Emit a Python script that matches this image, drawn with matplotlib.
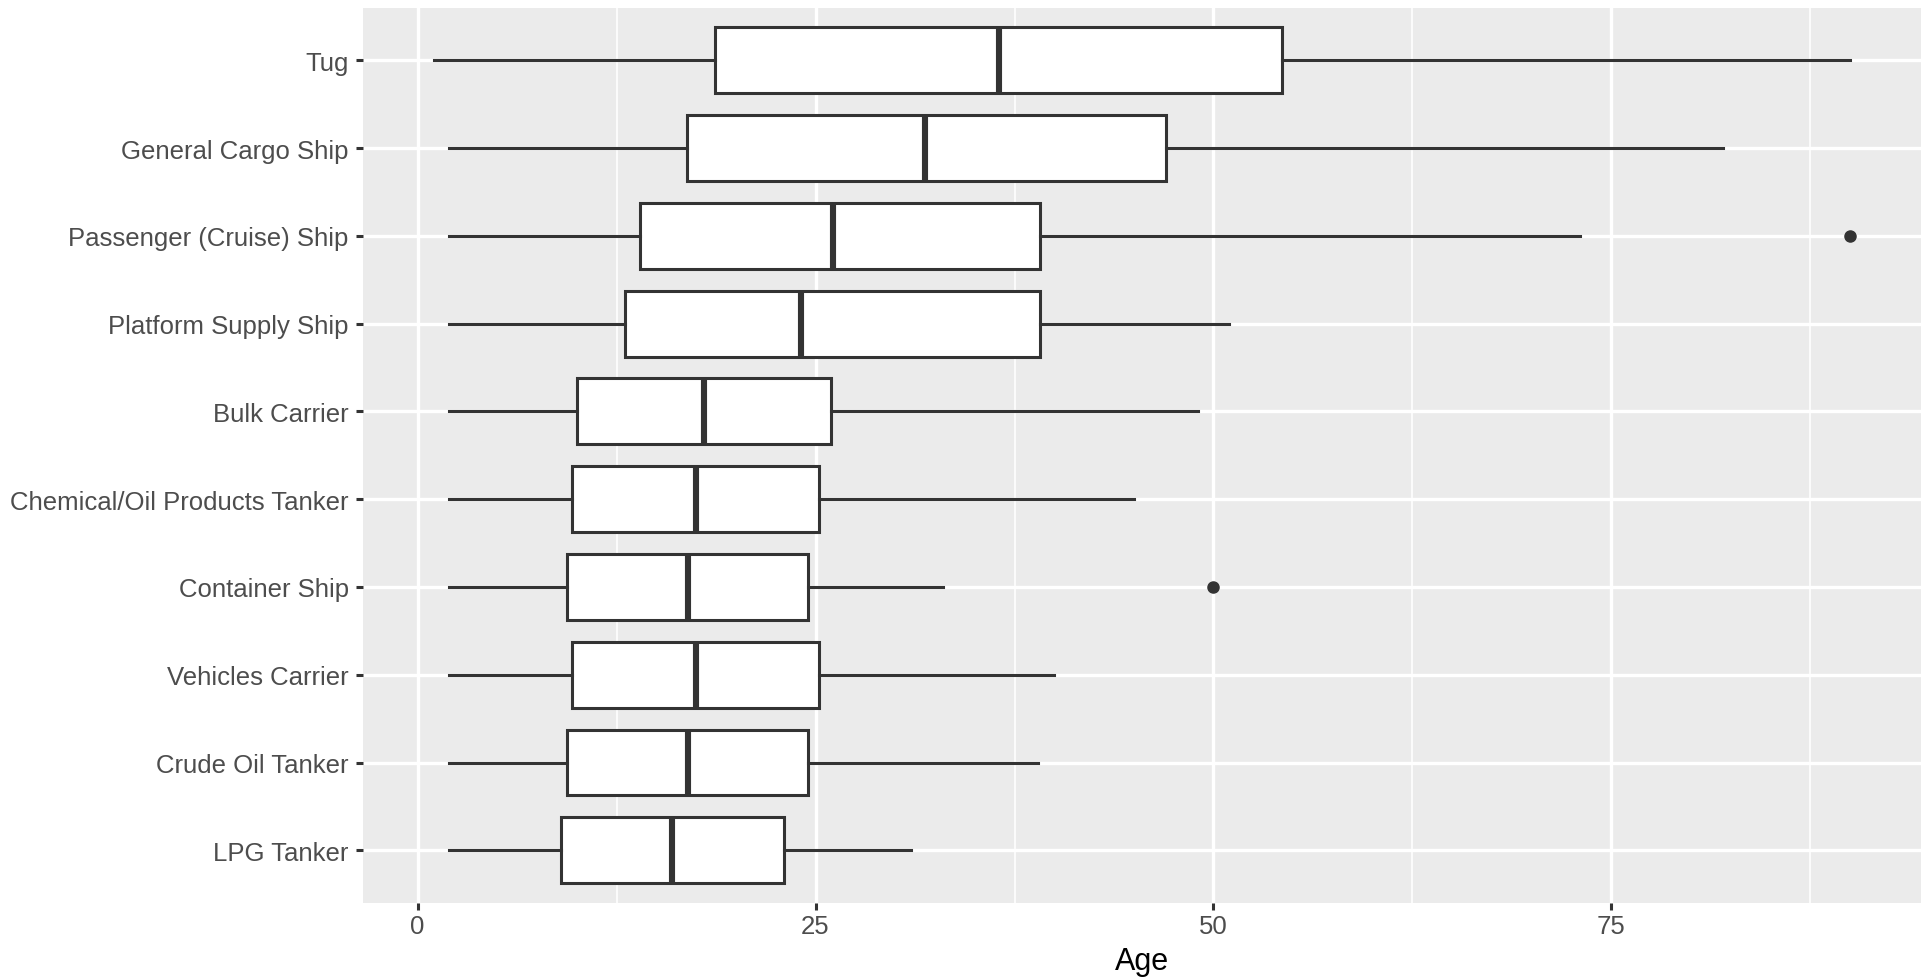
import matplotlib.pyplot as plt
import numpy as np

# ship types, top to bottom as in the chart
ship_types = ["Tug", "General Cargo Ship", "Passenger (Cruise) Ship",
              "Platform Supply Ship", "Bulk Carrier", "Chemical/Oil Products Tanker",
              "Container Ship", "Vehicles Carrier", "Crude Oil Tanker", "LPG Tanker"]
whisker_low = [1, 2, 2, 2, 2, 2, 2, 2, 2, 2]
q1 = [18.7, 16.9, 14.0, 13.0, 10.0, 9.7, 9.4, 9.7, 9.4, 9.0]
median = [36.5, 31.9, 26.1, 24.1, 18.0, 17.5, 17.0, 17.5, 17.0, 16.0]
q3 = [54.3, 47.0, 39.1, 39.1, 26.0, 25.2, 24.5, 25.2, 24.5, 23.0]
whisker_high = [90, 82, 73, 51, 49, 45, 33, 40, 39, 31]
outliers = [[], [], [90], [], [], [], [50], [], [], []]

stats = []
for i, name in enumerate(ship_types):
    stats.append({"label": name, "whislo": whisker_low[i], "q1": q1[i],
                  "med": median[i], "q3": q3[i], "whishi": whisker_high[i],
                  "fliers": outliers[i]})

plt.rcParams["font.family"] = ["Liberation Sans", "DejaVu Sans"]
fig = plt.figure(figsize=(19.21, 9.78), dpi=100)
ax = fig.add_axes([0.1888, 0.0757, 0.8112, 0.9155])
ax.set_facecolor("#EBEBEB")

positions = np.arange(len(ship_types))[::-1] + 1
line_col = "#333333"
ax.bxp(stats, positions=positions, vert=False, widths=0.75, showcaps=False,
       patch_artist=True,
       boxprops=dict(facecolor="white", edgecolor=line_col, linewidth=2.2),
       whiskerprops=dict(color=line_col, linewidth=2.2),
       medianprops=dict(color=line_col, linewidth=4.4, solid_capstyle="butt"),
       flierprops=dict(marker="o", markerfacecolor=line_col, markeredgecolor=line_col,
                       markersize=8), zorder=3)

ax.set_xlim(-3.45, 94.45)
ax.set_ylim(0.4, len(ship_types) + 0.6)
ax.set_xticks([0, 25, 50, 75])
ax.set_xticks([12.5, 37.5, 62.5, 87.5], minor=True)
ax.set_yticks(positions)
ax.set_yticklabels(ship_types)

ax.grid(True, which="major", color="white", linewidth=2.4, zorder=0)
ax.grid(True, which="minor", axis="x", color="white", linewidth=1.2, zorder=0)
ax.set_axisbelow(True)
for s in ax.spines.values():
    s.set_visible(False)

ax.tick_params(axis="both", which="major", length=5, width=2.2, color=line_col,
               labelsize=18.5, labelcolor="#4D4D4D", pad=3)
ax.tick_params(axis="y", which="major", pad=5)
ax.tick_params(axis="both", which="minor", length=0)
ax.set_xlabel("Age", fontsize=22, color="black", labelpad=6)

fig.savefig("out.png", dpi=100)
